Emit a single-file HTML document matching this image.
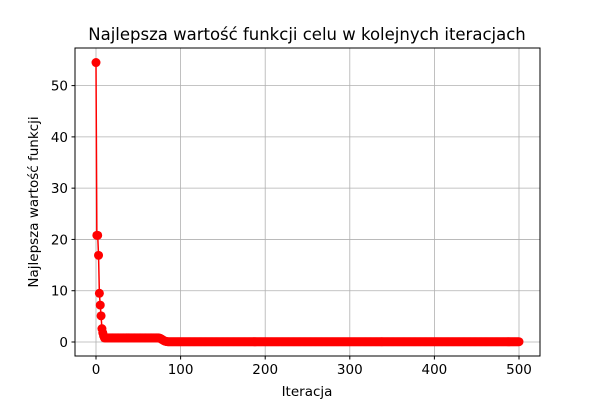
<!DOCTYPE html>
<html><head><meta charset="utf-8"><style>
body{margin:0;background:#fff}
svg text{font-family:"DejaVu Sans","Liberation Sans",sans-serif;fill:#000}
</style></head><body>
<svg width="600" height="400" viewBox="0 0 600 400">
<rect width="600" height="400" fill="#fff"/>
<g id="grid"></g>
<g id="series"></g>
<rect x="75" y="48" width="465" height="308" fill="none" stroke="#000" stroke-width="1"/>
<g id="ticks"></g>
<text x="307" y="40" text-anchor="middle" font-size="16.5">Najlepsza wartość funkcji celu w kolejnych iteracjach</text>
<text x="307" y="396" text-anchor="middle" font-size="13.5">Iteracja</text>
<text transform="translate(38,202) rotate(-90)" text-anchor="middle" font-size="13.5">Najlepsza wartość funkcji</text>
</svg>
<script>
const xTicks=[0,100,200,300,400,500];
const yTicks=[0,10,20,30,40,50];
const headValues=[54.5,20.8,20.8,16.9,9.5,7.2,5.1,2.6,1.8,1.2];
const plateauValues=Array(65).fill(0.8);
const dropValues=[0.75,0.7,0.6,0.5,0.4,0.3,0.2,0.15,0.1,0.08];
const tailValues=Array(416).fill(0.05);
const values=headValues.concat(plateauValues,dropValues,tailValues);
const NS="http://www.w3.org/2000/svg";
const xs=v=>96+v*(519-96)/500;
const ys=v=>342-v*(342-85.6)/50;
const grid=document.getElementById('grid'),ticks=document.getElementById('ticks'),ser=document.getElementById('series');
function mk(tag,attrs,parent){const e=document.createElementNS(NS,tag);for(const k in attrs)e.setAttribute(k,attrs[k]);parent.appendChild(e);return e;}
xTicks.forEach(t=>{const x=xs(t);
 const g=mk('line',{x1:x,x2:x,y1:48,y2:356,stroke:'#b0b0b0','stroke-width':0.8},grid);
 
 
 const tk=mk('line',{x1:x,x2:x,y1:356,y2:359.5,stroke:'#000'},ticks);
 
 
 const tx=mk('text',{x:x,y:374,'text-anchor':'middle','font-size':13.5},ticks);tx.textContent=t;
 
 
});
yTicks.forEach(t=>{const y=ys(t);
 const g=mk('line',{x1:75,x2:540,y1:y,y2:y,stroke:'#b0b0b0','stroke-width':0.8},grid);
 
 
 const tk=mk('line',{x1:71.5,x2:75,y1:y,y2:y,stroke:'#000'},ticks);
 
 
 const tx=mk('text',{x:68,y:y+5,'text-anchor':'end','font-size':13.5},ticks);tx.textContent=t;
 
 
});
const pts=values.map((v,i)=>xs(i).toFixed(2)+','+ys(v).toFixed(2)).join(' ');
const pl=mk('polyline',{points:pts,fill:'none',stroke:'#ff0000','stroke-width':1.5},ser);


values.forEach((v,i)=>{const c=mk('circle',{cx:xs(i),cy:ys(v),r:4.5,fill:'#ff0000'},ser);
 
 
});
</script>
</body></html>
